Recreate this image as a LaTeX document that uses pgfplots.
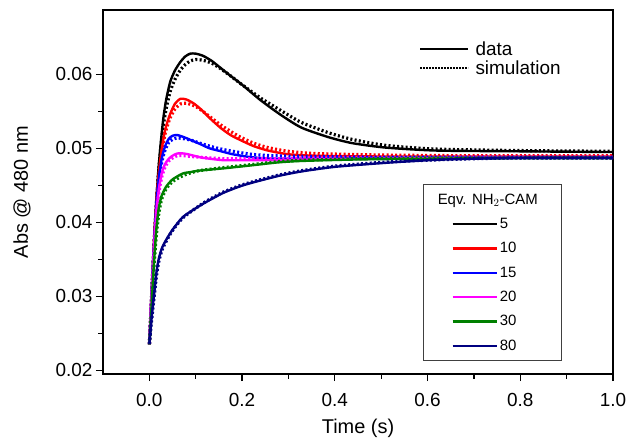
\documentclass[border=0pt]{standalone}
\usepackage{pgfplots}
\pgfplotsset{compat=1.18}
\usepackage{fontspec}
\setmainfont{Liberation Sans}
\definecolor{cblack}{RGB}{0,0,0}
\definecolor{cred}{RGB}{255,0,0}
\definecolor{cblue}{RGB}{0,0,255}
\definecolor{cmag}{RGB}{255,0,255}
\definecolor{cgreen}{RGB}{0,128,0}
\definecolor{cnavy}{RGB}{0,0,128}
\tikzset{
  dat/.style={line width=2.4bp, smooth, tension=0.4},
  sim/.style={line width=3.2bp, dash pattern=on 2bp off 2.3bp, smooth, tension=0.4},
}
\begin{document}
\begin{tikzpicture}
\begin{axis}[
  name=main,
  scale only axis, width=510bp, height=364bp,
  xmin=-0.1, xmax=1.0, ymin=0.0195, ymax=0.0687,
  xtick={0,0.2,0.4,0.6,0.8,1.0},
  ytick={0.02,0.03,0.04,0.05,0.06},
  minor tick num=1,
  tick pos=left, tick align=outside,
  major tick length=7bp, minor tick length=4.5bp,
  every tick/.style={line width=1.3bp, black},
  axis line style={line width=2.2bp},
  scaled y ticks=false, scaled x ticks=false,
  /pgf/number format/assume math mode=true,
  xticklabel style={/pgf/number format/fixed, /pgf/number format/precision=1, /pgf/number format/fixed zerofill, font=\fontsize{19}{22}\selectfont, yshift=-9bp},
  yticklabel style={/pgf/number format/fixed, /pgf/number format/precision=2, /pgf/number format/fixed zerofill, font=\fontsize{19}{22}\selectfont},
  xlabel={Time (s)}, ylabel={Abs @ 480 nm},
  xlabel style={font=\fontsize{20}{24}\selectfont, at={(axis description cs:0.5,-0.148)}, anchor=center},
  ylabel style={font=\fontsize{20}{24}\selectfont, at={(axis description cs:-0.159,0.5)}, anchor=center, rotate=0},
  legend image code/.code={\draw[#1] (0bp,0bp) -- (48bp,0bp);},
  legend style={at={(0.614,0.925)}, anchor=north west, draw=none, fill=none,
    font=\fontsize{19}{19}\selectfont, row sep=0bp, cells={anchor=west},
    /tikz/every odd column/.append style={column sep=4bp}},
  legend cell align=left,
]
% 5 eq
\addplot[cblack, dat, forget plot] coordinates {
(0,0.0235)(0.003,0.028)(0.007,0.0335)(0.011,0.0385)(0.015,0.043)(0.02,0.0475)(0.025,0.051)(0.03,0.054)(0.036,0.0565)(0.045,0.0590)(0.055,0.0605)(0.066,0.0616)(0.077,0.0624)(0.088,0.0628)(0.1,0.0628)(0.116,0.0625)(0.135,0.0618)(0.153,0.0609)(0.175,0.0598)(0.2,0.0586)(0.24,0.0565)(0.284,0.0545)(0.328,0.0528)(0.387,0.0515)(0.438,0.0507)(0.51,0.0501)(0.62,0.0497)(0.8,0.0496)(1.0,0.0495)};
\addplot[cblack, sim, forget plot] coordinates {
(0,0.0235)(0.003,0.0275)(0.007,0.033)(0.011,0.038)(0.015,0.0425)(0.02,0.0468)(0.025,0.0503)(0.03,0.0530)(0.036,0.0553)(0.045,0.0577)(0.055,0.0593)(0.066,0.0605)(0.077,0.0613)(0.088,0.0618)(0.1,0.0620)(0.116,0.0619)(0.135,0.0615)(0.153,0.0608)(0.175,0.0598)(0.2,0.0586)(0.24,0.0568)(0.284,0.0551)(0.328,0.0535)(0.387,0.0521)(0.438,0.0512)(0.51,0.0504)(0.62,0.0499)(0.8,0.0497)(1.0,0.0496)};
% 10 eq
\addplot[cred, dat, forget plot] coordinates {
(0,0.0235)(0.004,0.029)(0.008,0.0345)(0.012,0.0395)(0.016,0.0435)(0.021,0.047)(0.027,0.050)(0.034,0.0525)(0.044,0.0545)(0.055,0.0560)(0.067,0.0567)(0.08,0.0566)(0.095,0.0561)(0.109,0.0554)(0.13,0.0541)(0.153,0.0528)(0.175,0.0518)(0.197,0.0511)(0.225,0.0503)(0.256,0.0497)(0.3,0.0492)(0.36,0.0490)(0.5,0.0489)(0.7,0.0489)(1.0,0.0489)};
\addplot[cred, sim, forget plot] coordinates {
(0,0.0235)(0.004,0.0288)(0.008,0.0342)(0.012,0.039)(0.016,0.043)(0.021,0.0465)(0.027,0.0495)(0.034,0.052)(0.044,0.0540)(0.055,0.0553)(0.067,0.0560)(0.08,0.0561)(0.095,0.0558)(0.109,0.0553)(0.13,0.0543)(0.153,0.0532)(0.175,0.0523)(0.197,0.0515)(0.225,0.0507)(0.256,0.0501)(0.3,0.0496)(0.36,0.0493)(0.5,0.0491)(0.7,0.0490)(1.0,0.0490)};
% 15 eq
\addplot[cblue, dat, forget plot] coordinates {
(0,0.0235)(0.004,0.029)(0.008,0.0345)(0.012,0.039)(0.016,0.043)(0.021,0.0462)(0.027,0.0487)(0.034,0.0503)(0.042,0.0513)(0.05,0.0517)(0.06,0.0518)(0.075,0.0515)(0.09,0.0511)(0.109,0.0506)(0.13,0.0500)(0.155,0.0496)(0.18,0.0492)(0.22,0.0488)(0.27,0.0486)(0.35,0.0486)(0.5,0.0487)(0.7,0.0487)(1.0,0.0487)};
\addplot[cblue, sim, forget plot] coordinates {
(0,0.0235)(0.004,0.0288)(0.008,0.0342)(0.012,0.0386)(0.016,0.0425)(0.021,0.0457)(0.027,0.0482)(0.034,0.0498)(0.042,0.0508)(0.05,0.0512)(0.06,0.0514)(0.075,0.0513)(0.09,0.0511)(0.109,0.0507)(0.13,0.0503)(0.155,0.0499)(0.18,0.0496)(0.22,0.0492)(0.27,0.0490)(0.35,0.0489)(0.5,0.0488)(0.7,0.0488)(1.0,0.0488)};
% 20 eq
\addplot[cmag, dat, forget plot] coordinates {
(0,0.0235)(0.004,0.029)(0.008,0.034)(0.012,0.0385)(0.016,0.042)(0.021,0.0447)(0.027,0.0467)(0.034,0.0479)(0.042,0.0486)(0.05,0.049)(0.06,0.0493)(0.075,0.0493)(0.09,0.0491)(0.109,0.0488)(0.13,0.0486)(0.16,0.0484)(0.2,0.0484)(0.27,0.0484)(0.35,0.0485)(0.5,0.0486)(0.7,0.0487)(1.0,0.0487)};
\addplot[cmag, sim, forget plot] coordinates {
(0,0.0235)(0.004,0.0287)(0.008,0.0336)(0.012,0.038)(0.016,0.0415)(0.021,0.0442)(0.027,0.0462)(0.034,0.0475)(0.042,0.0483)(0.05,0.0487)(0.06,0.0490)(0.075,0.0490)(0.09,0.0489)(0.109,0.0488)(0.13,0.0487)(0.16,0.0486)(0.2,0.0486)(0.27,0.0486)(0.35,0.0487)(0.5,0.0487)(0.7,0.0488)(1.0,0.0488)};
% 30 eq
\addplot[cgreen, dat, forget plot] coordinates {
(0,0.0235)(0.005,0.029)(0.01,0.0345)(0.015,0.039)(0.02,0.0418)(0.026,0.0435)(0.036,0.0448)(0.05,0.0458)(0.072,0.0466)(0.09,0.0468)(0.109,0.0470)(0.16,0.0473)(0.22,0.0477)(0.277,0.0481)(0.33,0.0483)(0.45,0.0485)(0.6,0.0486)(0.8,0.0487)(1.0,0.0487)};
\addplot[cgreen, sim, forget plot] coordinates {
(0,0.0235)(0.005,0.0285)(0.01,0.034)(0.015,0.0382)(0.02,0.041)(0.026,0.043)(0.036,0.0445)(0.05,0.0455)(0.072,0.0463)(0.09,0.0467)(0.109,0.0470)(0.16,0.0474)(0.22,0.0478)(0.277,0.0482)(0.33,0.0484)(0.45,0.0486)(0.6,0.0487)(0.8,0.0487)(1.0,0.0487)};
% 80 eq
\addplot[cnavy, dat, forget plot] coordinates {
(0,0.0236)(0.004,0.0265)(0.008,0.029)(0.0115,0.031)(0.015,0.0331)(0.02,0.0350)(0.027,0.0365)(0.036,0.0376)(0.05,0.0390)(0.072,0.0407)(0.1,0.0419)(0.124,0.0428)(0.16,0.0440)(0.197,0.0449)(0.23,0.0455)(0.28,0.0463)(0.33,0.0469)(0.4,0.0475)(0.5,0.0480)(0.6,0.0484)(0.7,0.0486)(0.8,0.0487)(1.0,0.0487)};
\addplot[cnavy, sim, forget plot] coordinates {
(0,0.0236)(0.004,0.0262)(0.008,0.0286)(0.0115,0.0306)(0.015,0.0326)(0.02,0.0346)(0.027,0.0362)(0.036,0.0374)(0.05,0.0389)(0.072,0.0406)(0.1,0.0419)(0.124,0.0429)(0.16,0.0441)(0.197,0.0450)(0.23,0.0456)(0.28,0.0464)(0.33,0.0470)(0.4,0.0476)(0.5,0.0481)(0.6,0.0484)(0.7,0.0486)(0.8,0.0487)(1.0,0.0487)};
\addlegendimage{black, line width=1.5bp}
\addlegendentry{data}
\addlegendimage{black, line width=2.2bp, dash pattern=on 1.4bp off 1.6bp}
\addlegendentry{simulation}
\end{axis}
\begin{axis}[
  scale only axis, width=510bp, height=364bp,
  xmin=0, xmax=1, ymin=0, ymax=1,
  hide axis,
  legend image code/.code={\draw[#1] (0bp,0bp) -- (44bp,0bp);},
  legend style={at={(0.627,0.5215)}, anchor=north west, draw=black!75, line width=1.2bp,
    fill=white, font=\fontsize{15}{17}\selectfont, row sep=8.5bp,
    inner xsep=28bp, inner ysep=7bp},
  legend cell align=left,
]
\addlegendimage{empty legend}
\addlegendentry{\makebox[32bp][l]{\hspace{-62bp}Eqv. NH$_2$-CAM}}
\addlegendimage{cblack, line width=1.2bp}
\addlegendentry{5}
\addlegendimage{cred, line width=2.4bp}
\addlegendentry{10}
\addlegendimage{cblue, line width=2.4bp}
\addlegendentry{15}
\addlegendimage{cmag, line width=2.4bp}
\addlegendentry{20}
\addlegendimage{cgreen, line width=2.4bp}
\addlegendentry{30}
\addlegendimage{cnavy, line width=2.4bp}
\addlegendentry{80}
\end{axis}
\pgfresetboundingbox
\path ([shift={(-103bp,-66bp)}]main.south west) rectangle ([shift={(21bp,10bp)}]main.north east);
\end{tikzpicture}
\end{document}
